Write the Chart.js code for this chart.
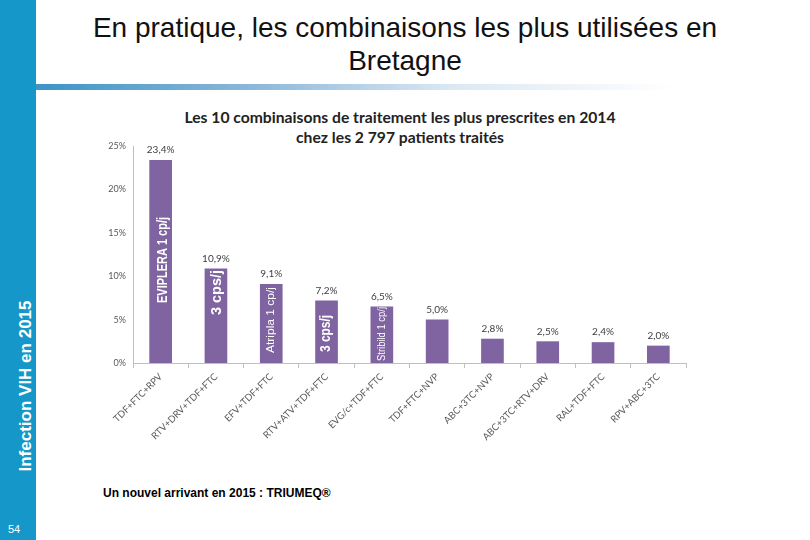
<!DOCTYPE html>
<html><head><meta charset="utf-8">
<script src="https://cdn.jsdelivr.net/npm/chart.js@4/dist/chart.umd.min.js"></script>
<style>
html,body{margin:0;padding:0;background:#fff;}
#wrap{position:relative;width:810px;height:540px;overflow:hidden;font-family:"Liberation Sans",Arial,sans-serif;background:#fff;}
#side{position:absolute;left:0;top:0;width:36px;height:540px;background:#1597c9;}
#sideText{position:absolute;left:26px;top:386px;transform:translate(-50%,-50%) rotate(-90deg);color:#fff;font-weight:bold;font-size:17px;white-space:nowrap;}
#pg{position:absolute;left:8px;top:523px;color:#fff;font-size:11px;}
#rule{position:absolute;left:36px;top:84px;width:640px;height:6px;background:linear-gradient(to right,#3b95c6 0%,#8fb9da 35%,#dbe8f3 65%,#ffffff 100%);}
#title{position:absolute;left:0;width:810px;top:11px;text-align:center;font-size:28px;line-height:33px;color:#111;}
#sub{position:absolute;left:100px;width:600px;top:107px;text-align:center;font-family:Lato,sans-serif;font-weight:bold;font-size:15.7px;line-height:20px;color:#222;}
#note{position:absolute;left:103px;top:486px;font-size:12px;font-weight:bold;color:#000;}
#c{position:absolute;left:0;top:0;}
</style>
</head><body>
<div id="wrap">
  <div id="side"></div>
  <div id="sideText">Infection VIH en 2015</div>
  <div id="pg">54</div>
  <div id="title">En pratique, les combinaisons les plus utilisées en<br>Bretagne</div>
  <div id="rule"></div>
  <div id="sub">Les 10 combinaisons de traitement les plus prescrites en 2014<br>chez les 2 797 patients traités</div>
  <div id="note">Un nouvel arrivant en 2015 : TRIUMEQ®</div>
  <canvas id="c" width="810" height="540"></canvas>
</div>
<script>
const categories = ['TDF+FTC+RPV','RTV+DRV+TDF+FTC','EFV+TDF+FTC','RTV+ATV+TDF+FTC','EVG/c+TDF+FTC','TDF+FTC+NVP','ABC+3TC+NVP','ABC+3TC+RTV+DRV','RAL+TDF+FTC','RPV+ABC+3TC'];
const shares = [23.4, 10.9, 9.1, 7.2, 6.5, 5.0, 2.8, 2.5, 2.4, 2.0];
const yTicks = [0, 5, 10, 15, 20, 25];
const barNotes = ['EVIPLERA 1 cp/j', '3 cps/j', 'Atripla 1 cp/j', '3 cps/j', 'Stribild 1 cp/j', '', '', '', '', ''];

// note styles: font, drawn length (px), gap above bar base (px), x shift (px)
const noteStyle = [
  {font:'bold 15px "Liberation Sans"', len:86, gap:60, dx:2},
  {font:'bold 14px "Liberation Sans"', len:45, gap:48, dx:1},
  {font:'11px "Liberation Sans"', len:66, gap:10, dx:0},
  {font:'bold 14px "Liberation Sans"', len:37, gap:11, dx:0},
  {font:'10px "Liberation Sans"', len:54, gap:2, dx:0}
];

const fmt = v => v.toFixed(1).replace('.', ',') + '%';

const labelPlugin = {
  id: 'labels',
  afterDatasetsDraw(chart) {
    const ctx = chart.ctx;
    const meta = chart.getDatasetMeta(0);
    ctx.save();
    meta.data.forEach((bar, i) => {
      ctx.fillStyle = '#404040';
      ctx.font = '10px Lato, sans-serif';
      ctx.textAlign = 'center';
      ctx.textBaseline = 'middle';
      ctx.fillText(fmt(shares[i]), bar.x, bar.y - 10);
      if (barNotes[i]) {
        const st = noteStyle[i];
        ctx.save();
        ctx.font = st.font;
        const w = ctx.measureText(barNotes[i]).width;
        ctx.translate(bar.x + st.dx, bar.base - st.gap);
        ctx.rotate(-Math.PI / 2);
        ctx.scale(st.len / w, 1);
        ctx.fillStyle = '#ffffff';
        ctx.textAlign = 'left';
        ctx.textBaseline = 'middle';
        ctx.fillText(barNotes[i], 0, 0);
        ctx.restore();
      }
    });
    ctx.restore();
  }
};

new Chart(document.getElementById('c'), {
  type: 'bar',
  data: {
    labels: categories,
    datasets: [{
      data: shares,
      backgroundColor: '#8064A2',
      borderWidth: 0,
      barPercentage: 0.41,
      categoryPercentage: 1.0
    }]
  },
  options: {
    responsive: false,
    animation: false,
    events: [],
    layout: { padding: { left: 90, top: 146, right: 124, bottom: 0 } },
    plugins: { legend: { display: false }, tooltip: { enabled: false }, title: { display: false } },
    scales: {
      x: {
        grid: { offset: true, drawOnChartArea: false, drawTicks: true, tickLength: 5, color: '#bfbfbf' },
        border: { color: '#bfbfbf' },
        ticks: { autoSkip: false, minRotation: 45, maxRotation: 45, color: '#595959', font: { family: 'Lato', size: 9.5 }, padding: 3 },
        afterFit: s => { s.height = 177; }
      },
      y: {
        min: 0, max: 25,
        afterBuildTicks: s => { s.ticks = yTicks.map(v => ({ value: v })); },
        grid: { display: false, drawTicks: false },
        border: { display: true, color: '#bfbfbf' },
        ticks: { color: '#595959', font: { family: 'Lato', size: 9 }, padding: 7, callback: v => v + '%' },
        afterFit: s => { s.width = 43; }
      }
    }
  },
  plugins: [labelPlugin]
});
</script>
</body></html>
